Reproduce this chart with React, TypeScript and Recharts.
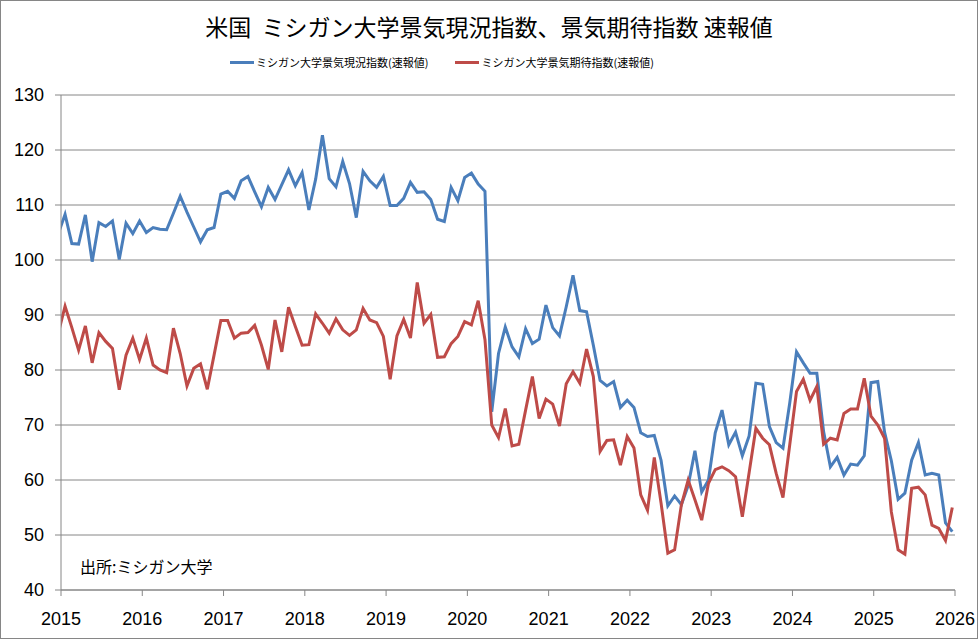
import { CartesianGrid, Line, LineChart, XAxis, YAxis } from "recharts";

// Preliminary (速報値) readings, Dec 2014 .. Dec 2025, one per month
const firstMonth = { year: 2014, month: 12 };

const currentConditions = [
  104.8,
  108.3, 103.0, 102.9, 108.2, 99.7, 106.8, 106.1, 107.1, 100.1, 106.7, 104.8, 107.1,
  105.0, 105.9, 105.6, 105.5, 108.5, 111.6, 108.7, 106.0, 103.3, 105.5, 105.9, 112.0,
  112.5, 111.2, 114.4, 115.2, 112.4, 109.7, 113.2, 111.0, 113.7, 116.4, 113.5, 115.9,
  109.1, 114.7, 122.7, 114.8, 113.3, 117.9, 113.9, 107.7, 116.1, 114.4, 113.2, 115.2,
  109.9, 109.9, 111.2, 114.1, 112.3, 112.4, 111.0, 107.4, 107.0, 113.2, 110.8, 115.0,
  115.8, 113.8, 112.5, 72.4, 83.0, 87.8, 84.2, 82.4, 87.5, 84.8, 85.6, 91.8,
  87.7, 86.2, 91.5, 97.2, 90.8, 90.6, 84.5, 78.1, 77.1, 77.9, 73.2, 74.5,
  73.2, 68.6, 67.9, 68.1, 63.6, 55.3, 57.1, 55.5, 59.0, 65.3, 57.8, 60.0,
  68.6, 72.7, 66.4, 68.7, 64.4, 68.0, 77.6, 77.4, 69.7, 66.8, 65.8, 74.0,
  83.3, 81.3, 79.4, 79.4, 68.8, 62.4, 64.1, 60.9, 62.9, 62.7, 64.4, 77.7,
  77.9, 68.7, 63.5, 56.5, 57.6, 63.6, 66.8, 60.9, 61.2, 60.9, 52.2, 50.6,
];

const expectations = [
  86.7,
  91.6, 87.7, 83.6, 88.0, 81.3, 86.8, 85.2, 83.9, 76.4, 82.7, 85.8, 81.9,
  85.8, 80.9, 80.0, 79.5, 87.6, 83.0, 77.1, 80.3, 81.1, 76.5, 82.7, 89.0,
  89.0, 85.8, 86.7, 86.8, 88.1, 84.5, 80.1, 89.1, 83.3, 91.4, 87.9, 84.5,
  84.6, 90.2, 88.5, 86.7, 89.3, 87.3, 86.3, 87.3, 91.2, 89.1, 88.6, 86.1,
  78.3, 86.2, 89.2, 85.8, 95.9, 88.5, 90.1, 82.3, 82.4, 84.8, 86.1, 88.8,
  88.2, 92.6, 85.5, 70.0, 67.7, 73.0, 66.2, 66.5, 72.7, 78.8, 71.2, 74.7,
  73.8, 69.8, 77.5, 79.7, 77.6, 83.8, 78.8, 65.2, 67.2, 67.3, 62.7, 67.9,
  65.8, 57.3, 54.5, 64.1, 55.8, 46.7, 47.3, 55.5, 60.0, 56.4, 52.7, 59.4,
  61.9, 62.4, 61.7, 60.6, 53.3, 61.3, 69.4, 67.6, 66.4, 61.2, 56.8, 66.4,
  76.1, 78.3, 74.5, 77.0, 66.5, 67.6, 67.3, 72.1, 72.9, 72.9, 78.5, 71.6,
  70.0, 67.6, 54.2, 47.3, 46.5, 58.5, 58.7, 57.3, 51.8, 51.2, 49.0, 55.0,
];

const yearTicks = [2015, 2016, 2017, 2018, 2019, 2020, 2021, 2022, 2023, 2024, 2025, 2026];
const valueTicks = [40, 50, 60, 70, 80, 90, 100, 110, 120, 130];

const seriesNames = ["ミシガン大学景気現況指数(速報値)", "ミシガン大学景気期待指数(速報値)"];
const title = "米国  ミシガン大学景気現況指数、景気期待指数 速報値";
const source = "出所:ミシガン大学";

const BLUE = "#4a7ebb";
const RED = "#be4b48";
const GRID = "#868686";
const JP = '"Noto Sans CJK JP", sans-serif';

// releases come out mid-month, so each point sits a bit after the month start
const data = currentConditions.map((v, i) => ({
  t: firstMonth.year + (firstMonth.month - 1 + i) / 12 + 0.05,
  current: v,
  expect: expectations[i],
}));

function LegendItem({ color, label }: { color: string; label: string }) {
  return (
    <div style={{ display: "flex", alignItems: "center", marginRight: 27 }}>
      <div style={{ width: 24, height: 3, background: color, marginRight: 2 }} />
      <span>{label}</span>
    </div>
  );
}

export default function App() {
  return (
    <div
      style={{
        position: "fixed",
        left: 0,
        top: 0,
        width: 978,
        height: 639,
        background: "#fff",
        fontFamily: JP,
      }}
    >
      <LineChart width={978} height={639} data={data} margin={{ top: 95, right: 23, bottom: 0, left: 0 }}>
        <CartesianGrid horizontal vertical={false} stroke={GRID} strokeWidth={1} />
        <XAxis
          type="number"
          dataKey="t"
          domain={[2015, 2026]}
          ticks={yearTicks}
          allowDataOverflow
          height={49}
          stroke={GRID}
          tickSize={6}
          tickMargin={16}
          tick={{ fill: "#000", fontSize: 18, fontFamily: '"Liberation Sans", sans-serif' }}
        />
        <YAxis
          type="number"
          domain={[40, 130]}
          ticks={valueTicks}
          allowDataOverflow
          width={61}
          stroke={GRID}
          tickSize={6}
          tickMargin={11}
          tick={{ fill: "#000", fontSize: 18, fontFamily: '"Liberation Sans", sans-serif' }}
        />
        <Line
          type="linear"
          dataKey="current"
          name={seriesNames[0]}
          stroke={BLUE}
          strokeWidth={3}
          dot={false}
          isAnimationActive={false}
        />
        <Line
          type="linear"
          dataKey="expect"
          name={seriesNames[1]}
          stroke={RED}
          strokeWidth={3}
          dot={false}
          isAnimationActive={false}
        />
      </LineChart>

      <div
        style={{
          position: "absolute",
          top: 9,
          left: 0,
          width: 978,
          textAlign: "center",
          fontSize: 23,
          whiteSpace: "pre",
        }}
      >
        {title}
      </div>
      <div
        style={{
          position: "absolute",
          top: 54,
          left: 230,
          display: "flex",
          fontSize: 11,
        }}
      >
        <LegendItem color={BLUE} label={seriesNames[0]} />
        <LegendItem color={RED} label={seriesNames[1]} />
      </div>
      <div style={{ position: "absolute", left: 80, top: 554, fontSize: 16 }}>{source}</div>
      <div
        style={{
          position: "absolute",
          inset: 0,
          border: `1px solid ${GRID}`,
          pointerEvents: "none",
        }}
      />
    </div>
  );
}
